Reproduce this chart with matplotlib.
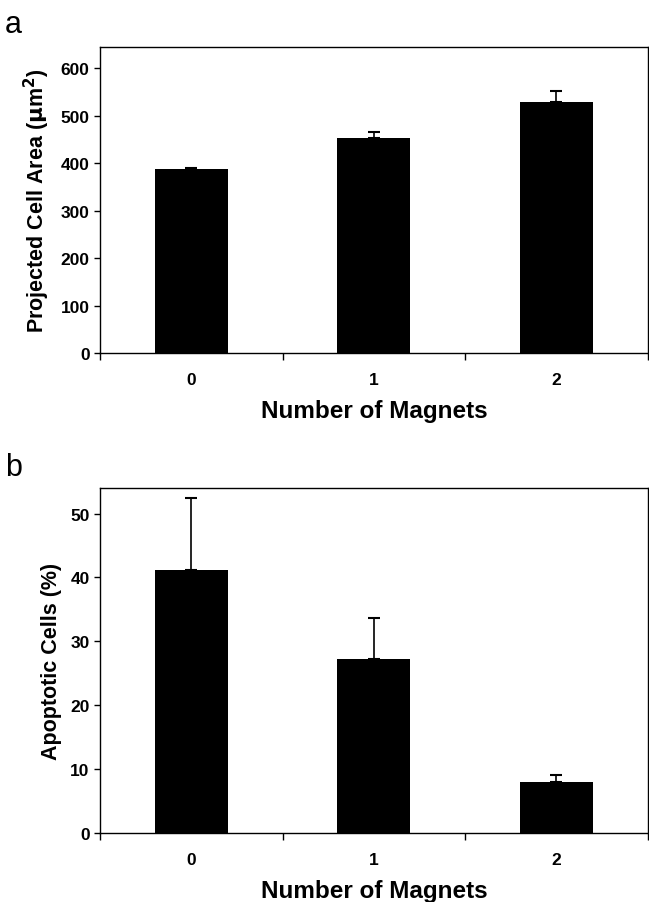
import matplotlib.pyplot as plt
from matplotlib.ticker import FixedLocator, NullFormatter

plt.rcParams['font.family'] = ['Liberation Sans', 'DejaVu Sans']

magnets = ['0', '1', '2']
cell_area = [387, 453, 528]
cell_area_err = [3, 13, 23]
apoptotic = [41.2, 27.2, 8.0]
apoptotic_err = [11.3, 6.5, 1.1]

fig = plt.figure(figsize=(6.49, 9.03), dpi=100)
ax1 = fig.add_axes([0.154, 0.608, 0.844, 0.339])
ax2 = fig.add_axes([0.154, 0.0764, 0.844, 0.382])


def draw(ax, vals, errs, ylim, yticks, ylabel):
    x = range(len(magnets))
    ax.bar(x, vals, width=0.4, color='black', zorder=2)
    ax.errorbar(x, vals, yerr=[[0] * len(errs), errs], fmt='none',
                ecolor='black', elinewidth=1.2, capsize=4, capthick=1.5, zorder=1)
    ax.set_xlim(-0.5, len(magnets) - 0.5)
    ax.set_ylim(*ylim)
    ax.set_yticks(yticks)
    ax.set_xticks(list(x))
    ax.set_xticklabels(magnets)
    ax.tick_params(axis='x', which='major', length=0, pad=14, labelsize=12.5)
    ax.xaxis.set_minor_locator(FixedLocator([i - 0.5 for i in range(len(magnets) + 1)]))
    ax.xaxis.set_minor_formatter(NullFormatter())
    ax.tick_params(axis='x', which='minor', length=5, direction='out', width=1)
    ax.tick_params(axis='y', length=4, direction='out', width=1, labelsize=12.5)
    for lab in ax.get_xticklabels() + ax.get_yticklabels():
        lab.set_fontweight('semibold')
    for s in ax.spines.values():
        s.set_linewidth(1.0)
    ax.set_ylabel(ylabel, fontsize=15.5, fontweight='bold', labelpad=6)
    ax.set_xlabel('Number of Magnets', fontsize=17.5, fontweight='bold', labelpad=8)


draw(ax1, cell_area, cell_area_err, (0, 645), range(0, 700, 100),
     r'Projected Cell Area ($\mathbf{\mu}$m$^\mathbf{2}$)')
draw(ax2, apoptotic, apoptotic_err, (0, 54), range(0, 60, 10),
     'Apoptotic Cells (%)')

fig.text(0.008, 0.972, 'a', fontsize=22, va='center')
fig.text(0.008, 0.482, 'b', fontsize=22, va='center')

fig.savefig('out.png', dpi=100)
